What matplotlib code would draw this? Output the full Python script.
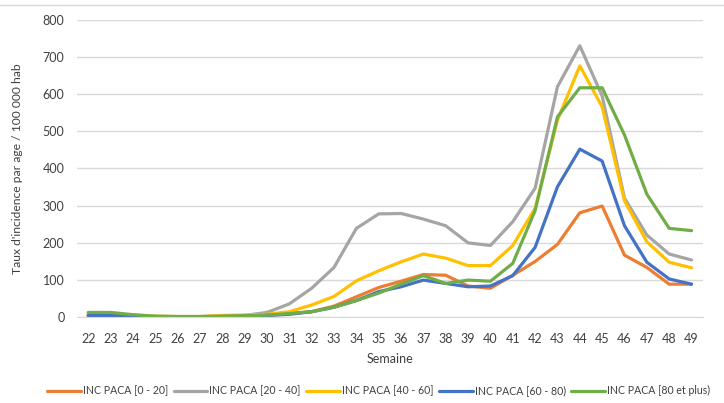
import matplotlib.pyplot as plt
from matplotlib.lines import Line2D

plt.rcParams['font.family'] = ['Lato', 'DejaVu Sans']

weeks = list(range(22, 50))

inc_0_20 = [2, 2, 2, 1, 1, 1, 2, 3, 5, 10, 15, 30, 55, 80, 97, 115, 113, 84, 78, 113,
            150, 196, 281, 299, 167, 134, 89, 89]
inc_20_40 = [5, 5, 4, 2, 2, 2, 3, 5, 13, 36, 78, 134, 239, 278, 279, 264, 246, 200, 193, 257,
             347, 620, 730, 595, 320, 221, 170, 154]
inc_40_60 = [8, 8, 6, 3, 2, 2, 5, 6, 8, 15, 33, 56, 98, 125, 149, 170, 159, 139, 139, 193,
             293, 530, 676, 566, 313, 203, 148, 133]
inc_60_80 = [5, 5, 3, 2, 1, 1, 2, 3, 5, 8, 15, 27, 45, 69, 82, 100, 91, 82, 84, 112,
             188, 351, 452, 420, 246, 148, 103, 89]
inc_80_plus = [13, 13, 7, 3, 2, 2, 3, 4, 6, 10, 15, 27, 45, 65, 89, 112, 91, 100, 97, 145,
               287, 539, 617, 617, 490, 331, 239, 233]

series = [
    ("INC PACA [0 - 20]", inc_0_20, "#ED7D31"),
    ("INC PACA [20 - 40]", inc_20_40, "#A5A5A5"),
    ("INC PACA [40 - 60]", inc_40_60, "#FFC000"),
    ("INC PACA [60 - 80)", inc_60_80, "#4472C4"),
    ("INC PACA [80 et plus)", inc_80_plus, "#70AD47"),
]

fig = plt.figure(figsize=(7.24, 4.03), dpi=100)
ax = fig.add_axes([0.1064, 0.2127, 0.8642, 0.7384])

for label, values, color in series:
    ax.plot(weeks, values, color=color, linewidth=2.3, label=label, solid_capstyle="round")

ax.set_xlim(21.5, 49.5)
ax.set_ylim(0, 800)
ax.set_xticks(weeks)
ax.set_yticks(range(0, 801, 100))
ax.tick_params(axis="both", length=0, labelsize=9, colors="#404040")
ax.tick_params(axis="x", pad=11)
ax.tick_params(axis="y", pad=9)
ax.grid(axis="y", color="#D9D9D9", linewidth=1)
ax.set_axisbelow(True)
for side in ["top", "right", "left"]:
    ax.spines[side].set_visible(False)
ax.spines["bottom"].set_color("#D9D9D9")

ax.set_xlabel("Semaine", fontsize=9, color="#404040", labelpad=6)
ax.set_ylabel("Taux d'incidence par age / 100 000 hab", fontsize=8.7, color="#404040", labelpad=14)

fig.legend(loc="center", bbox_to_anchor=(0.523, 0.03), ncol=5, frameon=False, fontsize=7.6,
           handlelength=3.2, handletextpad=0.2, columnspacing=0.5, labelcolor="#404040")

fig.add_artist(Line2D([0, 1], [1 - 4.5 / 403, 1 - 4.5 / 403], color="#D9D9D9", linewidth=1,
                      transform=fig.transFigure))

fig.savefig("out.png", dpi=100)
